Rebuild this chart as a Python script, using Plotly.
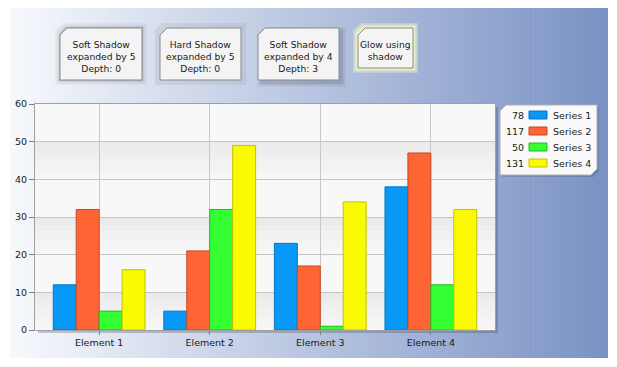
import plotly.graph_objects as go

# ---------------- data ----------------
categories = ["Element 1", "Element 2", "Element 3", "Element 4"]
series_names = ["Series 1", "Series 2", "Series 3", "Series 4"]
series1 = [12, 5, 23, 38]
series2 = [32, 21, 17, 47]
series3 = [5, 32, 1, 12]
series4 = [16, 49, 34, 32]
y_ticks = [0, 10, 20, 30, 40, 50, 60]
box_texts = [
    "Soft Shadow<br>expanded by 5<br>Depth: 0",
    "Hard Shadow<br>expanded by 5<br>Depth: 0",
    "Soft Shadow<br>expanded by 4<br>Depth: 3",
    "Glow using<br>shadow",
]

series_values = [series1, series2, series3, series4]
fill_colors = ["#0799f5", "#fe6434", "#33ff33", "#fafa05"]
line_colors = ["#0a74c4", "#c44a26", "#26b826", "#c2c200"]

W, H = 617, 367
L, R, T, B = 35, 495, 104, 330
FONT = "DejaVu Sans"


def px(x):
    return (x - L) / (R - L)


def py(y):
    return (B - y) / (B - T)


def lerp(c1, c2, t):
    return "rgb(%d,%d,%d)" % tuple(round(a + (b - a) * t) for a, b in zip(c1, c2))


shapes = []
annotations = []

# ---- background gradient panel ----
bx0, bx1, by0, by1 = 10, 608, 8, 358
left_c, right_c = (247, 249, 252), (121, 145, 196)
n = 120
step = (bx1 - bx0) / n
for i in range(n):
    xa = bx0 + i * step
    xb = xa + step + 0.6
    if xb > bx1:
        xb = bx1
    shapes.append(dict(type="rect", xref="paper", yref="paper",
                       x0=px(xa), x1=px(xb), y0=py(by1), y1=py(by0),
                       fillcolor=lerp(left_c, right_c, (i + 0.5) / n),
                       line=dict(width=0), layer="below"))

# ---- plot area shadow + base ----
shapes.append(dict(type="rect", xref="paper", yref="paper",
                   x0=px(L + 3), x1=px(R + 3), y0=py(B + 3), y1=py(T + 3),
                   fillcolor="rgba(40,50,80,0.25)", line=dict(width=0), layer="below"))
shapes.append(dict(type="rect", xref="paper", yref="paper",
                   x0=0, x1=1, y0=0, y1=1,
                   fillcolor="#f8f8f8", line=dict(width=0), layer="below"))
# alternating gradient bands
for band_top in (50, 30, 10):
    k = 8
    for j in range(k):
        ya = band_top - j * 10 / k
        yb = ya - 10 / k
        shapes.append(dict(type="rect", xref="paper", yref="y",
                           x0=0, x1=1, y0=yb, y1=ya,
                           fillcolor=lerp((234, 234, 234), (247, 247, 247), j / (k - 1)),
                           line=dict(width=0), layer="below"))


def cut_box(x0, y0, x1, y1, c1=7, c2=0):
    # polygon with top-left (c1) and bottom-right (c2) corners cut; pixel coords
    pts = [(x0 + c1, y0), (x1, y0), (x1, y1 - c2), (x1 - c2, y1), (x0, y1), (x0, y0 + c1)]
    return "M " + " L ".join("%.5f,%.5f" % (px(a), py(b)) for a, b in pts) + " Z"


# ---- annotation boxes at the top ----
boxes = [
    (60, 28, 142, 80, "soft"),
    (160, 28, 241, 80, "hard"),
    (258, 28, 339, 80, "depth"),
    (358, 28, 413, 68, "glow"),
]
for (x0, y0, x1, y1, kind), txt in zip(boxes, box_texts):
    if kind == "soft":
        for e, a in ((5, 0.04), (3.5, 0.05), (2, 0.07), (1, 0.10)):
            shapes.append(dict(type="path", xref="paper", yref="paper",
                               path=cut_box(x0 - e, y0 - e, x1 + e, y1 + e, 7),
                               fillcolor="rgba(60,60,80,%.2f)" % a, line=dict(width=0)))
    elif kind == "hard":
        shapes.append(dict(type="path", xref="paper", yref="paper",
                           path=cut_box(x0 - 5, y0 - 5, x1 + 5, y1 + 5, 7),
                           fillcolor="rgba(160,165,180,0.25)", line=dict(width=0)))
    elif kind == "depth":
        for e, a in ((4, 0.05), (2.5, 0.08), (1, 0.12)):
            shapes.append(dict(type="path", xref="paper", yref="paper",
                               path=cut_box(x0 - e + 3, y0 - e + 3, x1 + e + 3, y1 + e + 3, 7),
                               fillcolor="rgba(50,55,80,%.2f)" % a, line=dict(width=0)))
    else:
        for e, a in ((5, 0.35), (3.5, 0.55), (2, 0.75), (1, 0.9)):
            shapes.append(dict(type="path", xref="paper", yref="paper",
                               path=cut_box(x0 - e, y0 - e, x1 + e, y1 + e, 7),
                               fillcolor="rgba(236,242,200,%.2f)" % a, line=dict(width=0)))
    shapes.append(dict(type="path", xref="paper", yref="paper",
                       path=cut_box(x0, y0, x1, y1, 7),
                       fillcolor="#f4f4f4", line=dict(color="#8a8a8a", width=1)))
    annotations.append(dict(xref="paper", yref="paper",
                            x=px((x0 + x1) / 2), y=py((y0 + y1) / 2 + 2.5),
                            text=txt, showarrow=False, align="center",
                            xanchor="center", yanchor="middle",
                            font=dict(family=FONT, size=9.2, color="#1a1a1a")))

# ---- custom legend (totals, swatch, name) ----
lx0, ly0, lx1, ly1 = 500, 105, 597, 175
shapes.append(dict(type="path", xref="paper", yref="paper",
                   path=cut_box(lx0 + 2, ly0 + 2, lx1 + 2, ly1 + 2, 6, 6),
                   fillcolor="rgba(40,50,80,0.2)", line=dict(width=0)))
shapes.append(dict(type="path", xref="paper", yref="paper",
                   path=cut_box(lx0, ly0, lx1, ly1, 6, 6),
                   fillcolor="#f9f9f9", line=dict(color="#b0b0b0", width=1)))
row_y = [115, 131, 147, 163]
for name, vals, fc, lc, yy in zip(series_names, series_values, fill_colors, line_colors, row_y):
    annotations.append(dict(xref="paper", yref="paper", x=px(526), y=py(yy),
                            text=str(sum(vals)), showarrow=False,
                            xanchor="right", yanchor="middle",
                            font=dict(family=FONT, size=9.5, color="#1a1a1a")))
    shapes.append(dict(type="rect", xref="paper", yref="paper",
                       x0=px(529), x1=px(547), y0=py(yy + 4), y1=py(yy - 4),
                       fillcolor=fc, line=dict(color=lc, width=1)))
    annotations.append(dict(xref="paper", yref="paper", x=px(551), y=py(yy),
                            text=name, showarrow=False,
                            xanchor="left", yanchor="middle",
                            font=dict(family=FONT, size=9.5, color="#1a1a1a")))

# ---------------- traces ----------------
fig = go.Figure()
for name, vals, fc, lc in zip(series_names, series_values, fill_colors, line_colors):
    fig.add_trace(go.Bar(x=categories, y=vals, name=name,
                         marker=dict(color=fc, line=dict(color=lc, width=1))))

fig.update_layout(
    width=W, height=H,
    margin=dict(l=L, r=W - R, t=T, b=H - B, pad=0),
    paper_bgcolor="white",
    plot_bgcolor="rgba(0,0,0,0)",
    barmode="group", bargap=0.17, bargroupgap=0,
    showlegend=False,
    shapes=shapes,
    annotations=annotations,
    font=dict(family=FONT, size=9.5, color="#1a1a1a"),
)
fig.update_xaxes(range=[-0.58, 3.58], showgrid=True, gridcolor="#c8c8c8", gridwidth=1,
                 showline=True, linecolor="#a0a0a0", linewidth=1, mirror=True,
                 ticks="outside", ticklen=4, tickcolor="#808080",
                 tickfont=dict(family=FONT, size=9.5, color="#1a1a1a"))
fig.update_yaxes(range=[0, 60], tickvals=y_ticks, showgrid=True, gridcolor="#c4c4c4",
                 gridwidth=1, zeroline=False,
                 showline=True, linecolor="#a0a0a0", linewidth=1, mirror=True,
                 ticks="outside", ticklen=5, tickcolor="#808080",
                 tickfont=dict(family=FONT, size=9.5, color="#1a1a1a"))

fig.write_html("out.html", config={"displayModeBar": False},
               post_script="document.body.style.margin='0';document.body.style.overflow='hidden';")
